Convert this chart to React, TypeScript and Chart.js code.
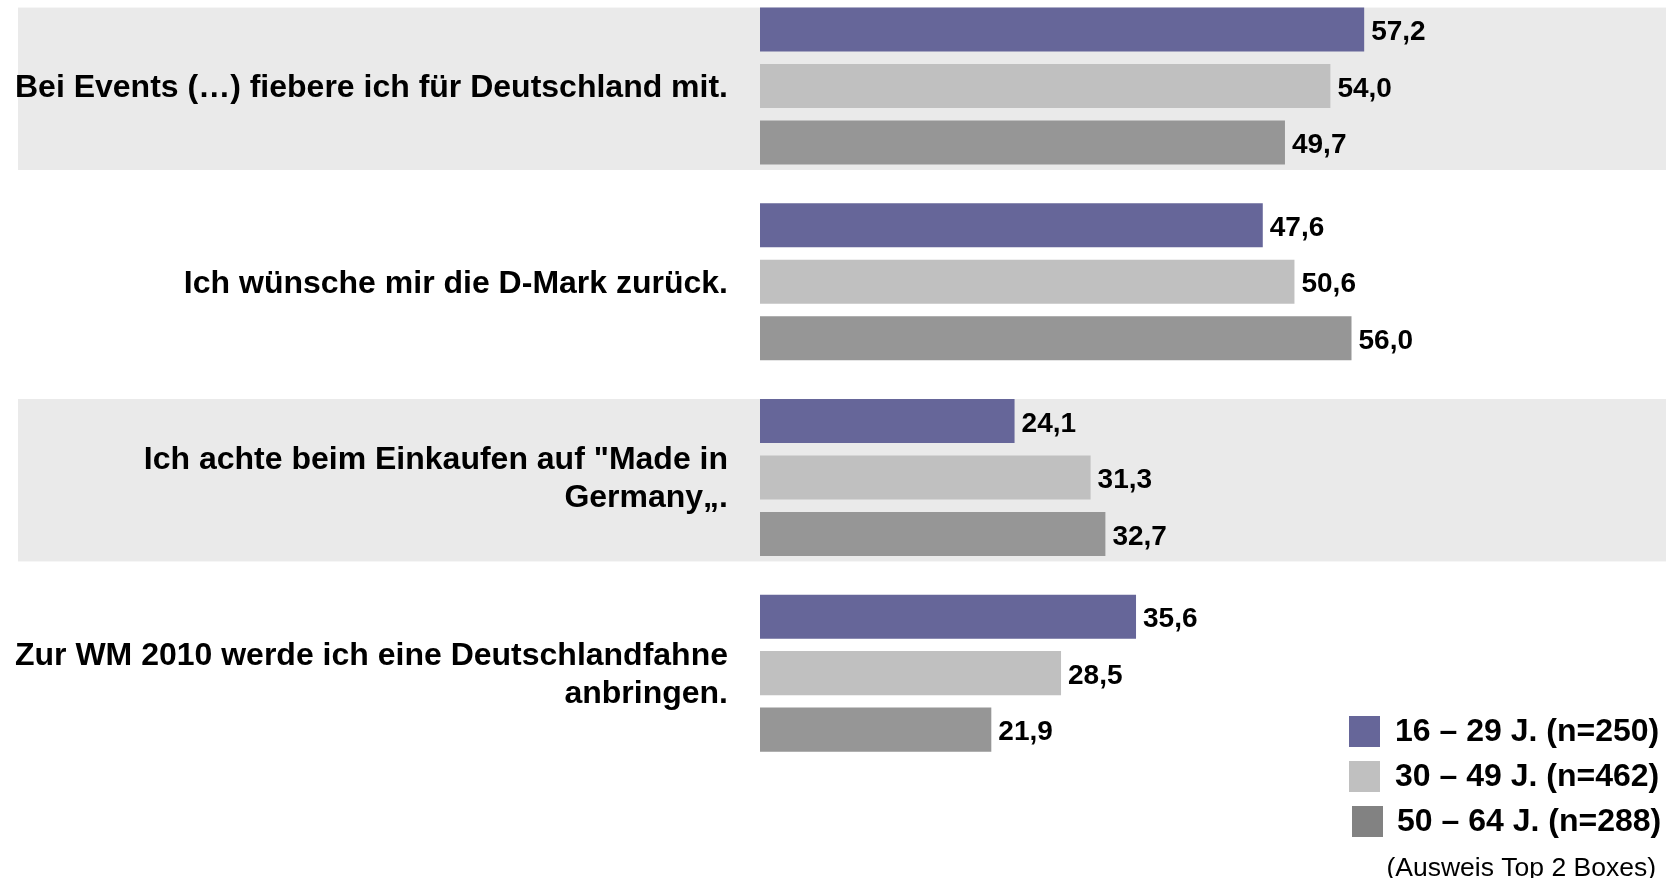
import React, { useEffect, useRef } from "react";
import { Chart, registerables } from "chart.js";

Chart.register(...registerables);

const categories: string[][] = [
  ["Bei Events (…) fiebere ich für Deutschland mit."],
  ["Ich wünsche mir die D-Mark zurück."],
  ["Ich achte beim Einkaufen auf \"Made in", "Germany„."],
  ["Zur WM 2010 werde ich eine Deutschlandfahne", "anbringen."],
];
const seriesLabels = ["16 – 29 J. (n=250)", "30 – 49 J. (n=462)", "50 – 64 J. (n=288)"];
const age16to29 = [57.2, 47.6, 24.1, 35.6];
const age30to49 = [54.0, 50.6, 31.3, 28.5];
const age50to64 = [49.7, 56.0, 32.7, 21.9];
const footnote = "(Ausweis Top 2 Boxes)";
const barColors = ["#666699", "#C0C0C0", "#969696"];
const legendColors = ["#666699", "#C0C0C0", "#828282"];
const bandedCategories = [0, 2];

const FONT = "'Liberation Sans', Arial, Helvetica, sans-serif";

const bandsPlugin = {
  id: "bands",
  beforeDraw(chart: any) {
    const y = chart.scales.y;
    const ctx = chart.ctx;
    const pitch = y.getPixelForValue(1) - y.getPixelForValue(0);
    ctx.save();
    ctx.fillStyle = "#EAEAEA";
    bandedCategories.forEach((i) => {
      const c = y.getPixelForValue(i);
      ctx.fillRect(18, c - pitch * 0.401, chart.width - 18, pitch * 0.83);
    });
    ctx.restore();
  },
};

const valueLabelsPlugin = {
  id: "valueLabels",
  afterDatasetsDraw(chart: any) {
    const ctx = chart.ctx;
    ctx.save();
    ctx.font = `bold 28px ${FONT}`;
    ctx.fillStyle = "#000";
    ctx.textAlign = "left";
    ctx.textBaseline = "middle";
    chart.data.datasets.forEach((ds: any, di: number) => {
      const meta = chart.getDatasetMeta(di);
      meta.data.forEach((bar: any, i: number) => {
        const v = ds.data[i] as number;
        ctx.fillText(v.toFixed(1).replace(".", ","), bar.x + 7, bar.y + 3);
      });
    });
    ctx.restore();
  },
};

const legendPlugin = {
  id: "customLegend",
  afterDraw(chart: any) {
    const ctx = chart.ctx;
    ctx.save();
    const rows = [761.5, 806.5, 851.5];
    seriesLabels.forEach((label, i) => {
      ctx.fillStyle = legendColors[i];
      ctx.fillRect(1349 + (i === 2 ? 3 : 0), rows[i] - 15.5, 31, 31);
      ctx.fillStyle = "#000";
      ctx.font = `bold 32px ${FONT}`;
      ctx.textAlign = "left";
      ctx.textBaseline = "middle";
      ctx.fillText(label, 1395 + (i === 2 ? 2 : 0), rows[i] + 1);
    });
    ctx.font = `26.5px ${FONT}`;
    ctx.textAlign = "right";
    ctx.textBaseline = "middle";
    ctx.fillStyle = "#000";
    ctx.fillText(footnote, 1656, 899);
    ctx.restore();
  },
};

export default function App() {
  const canvasRef = useRef<HTMLCanvasElement | null>(null);

  useEffect(() => {
    if (!canvasRef.current) return;
    const chart = new Chart(canvasRef.current, {
      type: "bar",
      data: {
        labels: categories,
        datasets: [age16to29, age30to49, age50to64].map((d, i) => ({
          label: seriesLabels[i],
          data: d,
          backgroundColor: barColors[i],
          borderWidth: 0,
          categoryPercentage: 0.866,
          barPercentage: 0.78,
        })),
      },
      options: {
        indexAxis: "y",
        animation: false,
        responsive: false,
        devicePixelRatio: 1,
        layout: { padding: { top: 18.2, bottom: 107, left: 0, right: 61 } },
        plugins: {
          legend: { display: false },
          tooltip: { enabled: false },
        },
        scales: {
          x: {
            display: false,
            min: 0,
            max: 80,
          },
          y: {
            grid: { display: false, drawTicks: false },
            border: { display: false },
            ticks: {
              color: "#000",
              padding: 32,
              labelOffset: 2,
              font: { family: FONT, size: 32, weight: "bold", lineHeight: 1.2 },
            },
            afterFit: (scale: any) => {
              scale.width = 760;
              scale.paddingTop = 0;
              scale.paddingBottom = 0;
            },
          },
        },
      },
      plugins: [bandsPlugin, valueLabelsPlugin, legendPlugin],
    });
    return () => chart.destroy();
  }, []);

  return (
    <div
      style={{
        position: "fixed",
        left: 0,
        top: -30,
        width: 1666,
        height: 908,
        background: "#fff",
      }}
    >
      <canvas ref={canvasRef} width={1666} height={908} style={{ display: "block" }} />
    </div>
  );
}
